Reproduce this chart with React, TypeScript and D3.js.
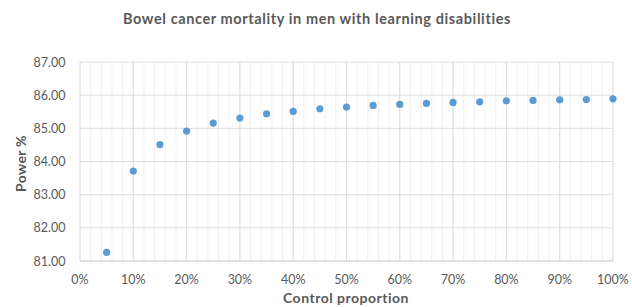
import React from "react";
import * as d3 from "d3";

const controlProportion = [0.05,0.10,0.15,0.20,0.25,0.30,0.35,0.40,0.45,0.50,0.55,0.60,0.65,0.70,0.75,0.80,0.85,0.90,0.95,1.00];
const powerPct = [81.26,83.71,84.51,84.92,85.16,85.31,85.44,85.51,85.59,85.64,85.69,85.72,85.75,85.78,85.80,85.83,85.84,85.86,85.87,85.89];
const yTicks = [81,82,83,84,85,86,87];
const xTicks = [0,0.1,0.2,0.3,0.4,0.5,0.6,0.7,0.8,0.9,1.0];
const xMinorTicks = d3.range(0, 51).map(i => i * 0.02);

export default function App() {
  const W = 632, H = 307;
  const left = 80, right = 613, top = 62, bottom = 261;
  const x = d3.scaleLinear().domain([0, 1]).range([left, right]);
  const y = d3.scaleLinear().domain([81, 87]).range([bottom, top]);
  const font = "Lato, 'Open Sans', sans-serif";
  const gray = "#595959";
  return (
    <svg width={W} height={H} style={{ position: "absolute", left: 0, top: 0 }}>
      <rect width={W} height={H} fill="#fff" />
      <text x={317} y={24} textAnchor="middle" fontFamily={font} fontWeight="bold" fontSize={14.5} letterSpacing={0.6} fill={gray}>
        Bowel cancer mortality in men with learning disabilities
      </text>
      {xMinorTicks.map((t, i) => (
        <line key={"m" + i} x1={x(t)} x2={x(t)} y1={top} y2={bottom} stroke="#f0f0f0" strokeWidth={1} />
      ))}
      {xTicks.map((t, i) => (
        <line key={"vx" + i} x1={x(t)} x2={x(t)} y1={top} y2={bottom} stroke="#dedede" strokeWidth={1} />
      ))}
      {yTicks.map((t, i) => (
        <line key={"hy" + i} x1={left} x2={right} y1={y(t)} y2={y(t)} stroke="#dedede" strokeWidth={1} />
      ))}
      <line x1={left} x2={right} y1={bottom} y2={bottom} stroke="#d0d0d0" strokeWidth={1} />
      {yTicks.map((t, i) => (
        <text key={"yl" + i} x={65.5} y={y(t) + 4.5} textAnchor="end" fontFamily={font} fontSize={12.5} fill={gray}>
          {d3.format(".2f")(t)}
        </text>
      ))}
      {xTicks.map((t, i) => (
        <text key={"xl" + i} x={x(t)} y={284} textAnchor="middle" fontFamily={font} fontSize={12.5} fill={gray}>
          {d3.format(".0%")(t)}
        </text>
      ))}
      <text x={346} y={303} textAnchor="middle" fontFamily={font} fontWeight="bold" fontSize={14} letterSpacing={0.5} fill={gray}>
        Control proportion
      </text>
      <text transform={`translate(26,${(top + bottom) / 2 + 2}) rotate(-90)`} textAnchor="middle" fontFamily={font} fontWeight="bold" fontSize={14} letterSpacing={0.3} fill={gray}>
        Power %
      </text>
      {controlProportion.map((c, i) => (
        <circle key={"p" + i} cx={x(c)} cy={y(powerPct[i])} r={3.6} fill="#5b9bd5" />
      ))}
    </svg>
  );
}
